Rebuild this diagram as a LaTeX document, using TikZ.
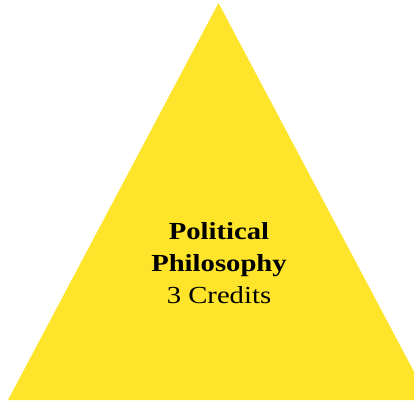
\documentclass[tikz,border=0pt]{standalone}
\usepackage{fontspec}
\setmainfont{Liberation Serif}[FakeStretch=1.17]
\definecolor{tri}{HTML}{FEE42A}
\tikzset{lbl/.style={anchor=base,inner sep=0pt,font=\fontsize{24.5}{29}\selectfont}}
\begin{document}
\begin{tikzpicture}[x=1pt,y=-1pt]
\useasboundingbox (0,0) rectangle (414,401);
\clip (0,0) rectangle (414,401);
\fill[tri] (218.5,3) -- (8,400) -- (429,400) -- cycle;
\node[lbl,font=\fontsize{24.5}{29}\selectfont\bfseries] (l1) at (219,239) {Political};
\node[lbl,font=\fontsize{24.5}{29}\selectfont\bfseries] (l2) at (219,271) {Philosophy};
\node[lbl] (l3) at (219,303) {3 Credits};
\end{tikzpicture}
\end{document}
